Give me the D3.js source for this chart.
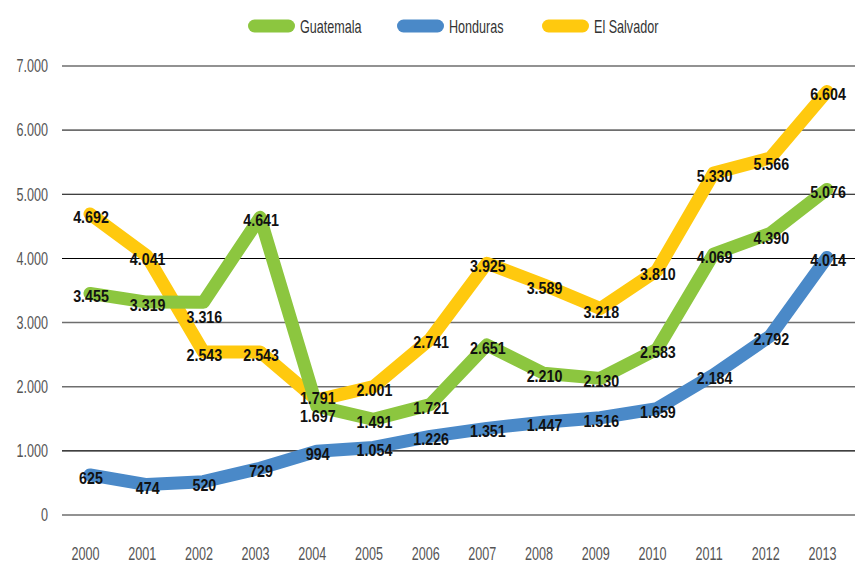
<!DOCTYPE html>
<html>
<head>
<meta charset="utf-8">
<script src="https://cdn.jsdelivr.net/npm/d3@7"></script>
<style>
  body { margin: 0; background: #fff; }
  text { font-family: "Liberation Sans", Arial, sans-serif; }
</style>
</head>
<body>
<div id="chart"></div>
<script>
// data
let years = ['2000', '2001', '2002', '2003', '2004', '2005', '2006', '2007', '2008', '2009', '2010', '2011', '2012', '2013'];
let guatemala = [3455, 3319, 3316, 4641, 1697, 1491, 1721, 2651, 2210, 2130, 2583, 4069, 4390, 5076];
let honduras = [625, 474, 520, 729, 994, 1054, 1226, 1351, 1447, 1516, 1659, 2184, 2792, 4014];
let elSalvador = [4692, 4041, 2543, 2543, 1791, 2001, 2741, 3925, 3589, 3218, 3810, 5330, 5566, 6604];
let yTicks = [0, 1000, 2000, 3000, 4000, 5000, 6000, 7000];

let series = [
  {name: 'Guatemala', values: guatemala, color: '#8cc63f'},
  {name: 'Honduras', values: honduras, color: '#4a89c8'},
  {name: 'El Salvador', values: elSalvador, color: '#ffc90e'}
];

let width = 855, height = 564;
// fake a condensed face by squeezing the text
let squeeze = 'scale(0.7,1)';
let squeezeBold = 'scale(0.84,1)';

let svg = d3.select('#chart').append('svg')
  .attr('width', width)
  .attr('height', height);

let xScale = d3.scalePoint().domain(years).range([90, 827]);
let yScale = d3.scaleLinear().domain([0, 7000]).range([515, 66]);

// thousands with a dot, as in the original
let fmt = v => d3.format(',')(v).replace(/,/g, '.');

// grid lines, some grey some black
let greyLines = [0, 2000, 3000, 6000, 7000];
svg.append('g').selectAll('line')
  .data(yTicks)
  .join('line')
    .attr('x1', 62)
    .attr('x2', width)
    .attr('y1', d => yScale(d))
    .attr('y2', d => yScale(d))
    .attr('stroke', d => greyLines.includes(d) ? '#6e6e6e' : '#000')
    .attr('stroke-width', d => greyLines.includes(d) ? 1.6 : 1.1);

// y axis labels
let yAxis = svg.append('g')
  .attr('transform', 'translate(48,0)')
  .call(d3.axisLeft(yScale).tickValues(yTicks).tickSize(0).tickPadding(0).tickFormat(fmt));
yAxis.select('.domain').remove();
yAxis.selectAll('text')
  .attr('transform', squeeze)
  .style('font-size', '18px')
  .style('fill', '#555');

// x axis labels
let xAxis = svg.append('g')
  .attr('transform', 'translate(-5,547)')
  .call(d3.axisBottom(xScale).tickSize(0).tickPadding(0));
xAxis.select('.domain').remove();
xAxis.selectAll('text')
  .attr('transform', squeeze)
  .style('font-size', '18px')
  .style('fill', '#555');

let line = d3.line()
  .x((d, i) => xScale(years[i]))
  .y(d => yScale(d));

// draw order: honduras, el salvador, guatemala on top
let drawOrder = [series[1], series[2], series[0]];
svg.append('g').selectAll('path')
  .data(drawOrder)
  .join('path')
    .attr('d', d => line(d.values))
    .attr('fill', 'none')
    .attr('stroke', d => d.color)
    .attr('stroke-width', 13)
    .attr('stroke-linejoin', 'round')
    .attr('stroke-linecap', 'round');

// label nudges where values overlap
let nudge = {
  'Guatemala-2002': 12,
  'Guatemala-2004': 7,
  'El Salvador-2004': -5,
  'El Salvador-2012': 3,
  'Guatemala-2012': 2
};

let labels = [];
series.forEach(s => {
  s.values.forEach((v, i) => {
    labels.push({name: s.name, year: years[i], value: v});
  });
});

svg.append('g').selectAll('text')
  .data(labels)
  .join('text')
    .attr('transform', d => 'translate(' + (xScale(d.year) + 1) + ',' +
      (yScale(d.value) + 3 + (nudge[d.name + '-' + d.year] || 0)) + ') ' + squeezeBold)
    .attr('text-anchor', 'middle')
    .attr('dominant-baseline', 'central')
    .style('font-size', '17px')
    .style('font-weight', 'bold')
    .style('fill', '#111')
    .text(d => fmt(d.value));

// legend
let legendX = [248, 397, 542];
let legend = svg.append('g').selectAll('g')
  .data(series)
  .join('g')
    .attr('transform', (d, i) => 'translate(' + legendX[i] + ',26)');
legend.append('rect')
  .attr('x', 0)
  .attr('y', -6.5)
  .attr('width', 47)
  .attr('height', 13)
  .attr('rx', 6.5)
  .attr('fill', d => d.color);
legend.append('text')
  .attr('transform', 'translate(52,1) ' + squeeze)
  .attr('dominant-baseline', 'central')
  .style('font-size', '18px')
  .style('fill', '#333')
  .text(d => d.name);
</script>
</body>
</html>
